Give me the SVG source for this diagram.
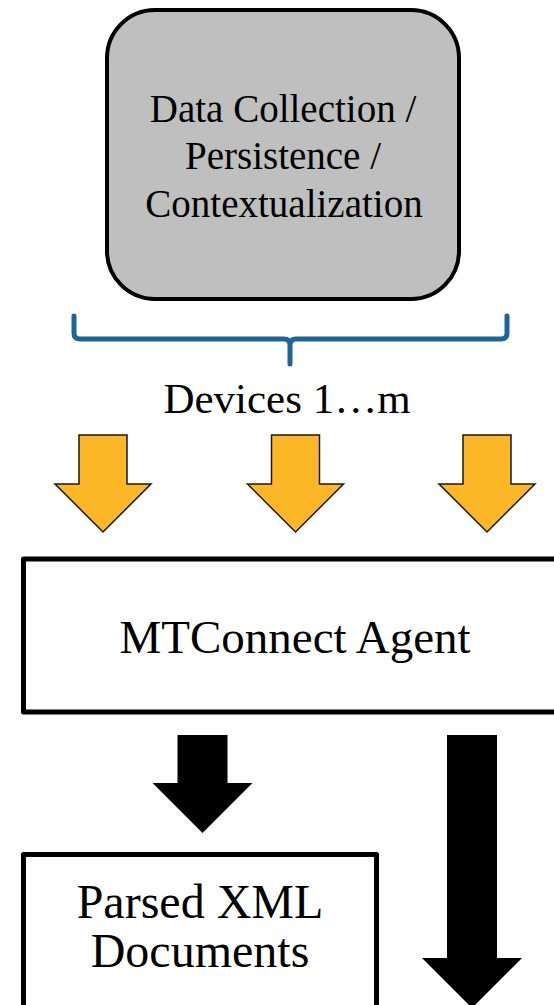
<svg xmlns="http://www.w3.org/2000/svg" width="554" height="1005" viewBox="0 0 554 1005">
  <style>
    .label { font-family: "Liberation Serif", "Times New Roman", serif; fill: #000; text-anchor: middle; }
    .box { fill: #fff; stroke: #000; stroke-width: 5; stroke-linejoin: round; }
    .feed { fill: #fbb726; stroke: #1a1a1a; stroke-width: 1.5; stroke-linejoin: miter; }
    .flow { fill: #000; }
    .brace { fill: none; stroke: #1e6593; stroke-width: 5; stroke-linecap: round; stroke-linejoin: round; }
  </style>
  <rect width="554" height="1005" fill="#fff"/>

  <!-- data collection node -->
  <g id="data-collection">
    <rect x="107" y="10" width="352" height="289" rx="48" ry="48" fill="#bfbfbf" stroke="#000" stroke-width="4"/>
    <text class="label" font-size="39" x="283" y="122">Data Collection /</text>
    <text class="label" font-size="39" x="283" y="169">Persistence /</text>
    <text class="label" font-size="39" x="284" y="217">Contextualization</text>
  </g>

  <!-- device group brace and label -->
  <g id="devices">
    <path class="brace" d="M74,316 V333 Q74,339 80,339 H284 Q290,339 290,345 V364 M290,345 Q290,339 296,339 H501 Q507,339 507,333 V316"/>
    <text class="label" font-size="43" x="287" y="413">Devices 1…m</text>
  </g>

  <!-- MTConnect agent node -->
  <g id="mtconnect-agent">
    <rect class="box" x="23.5" y="559" width="560" height="153"/>
    <text class="label" font-size="47" x="295" y="653">MTConnect Agent</text>
  </g>

  <!-- parsed XML documents node -->
  <g id="parsed-xml">
    <rect class="box" x="23.5" y="854.5" width="353" height="200"/>
    <text class="label" font-size="48" x="200" y="918">Parsed XML</text>
    <text class="label" font-size="48" x="200" y="967">Documents</text>
  </g>

  <!-- connectors -->
  <g id="connectors">
    <polygon class="feed" points="79,435 127,435 127,484 151,484 103,532 55,484 79,484"/>
    <polygon class="feed" points="271.5,435 319.5,435 319.5,484 343.5,484 295.5,532 247.5,484 271.5,484"/>
    <polygon class="feed" points="463,435 511,435 511,484 535,484 487,532 439,484 463,484"/>
    <polygon class="flow" points="177.5,735 227.5,735 227.5,783 252.5,783 202.5,833 152.5,783 177.5,783"/>
    <polygon class="flow" points="447,735 497,735 497,958 522,958 472,1008 422,958 447,958"/>
  </g>
</svg>
